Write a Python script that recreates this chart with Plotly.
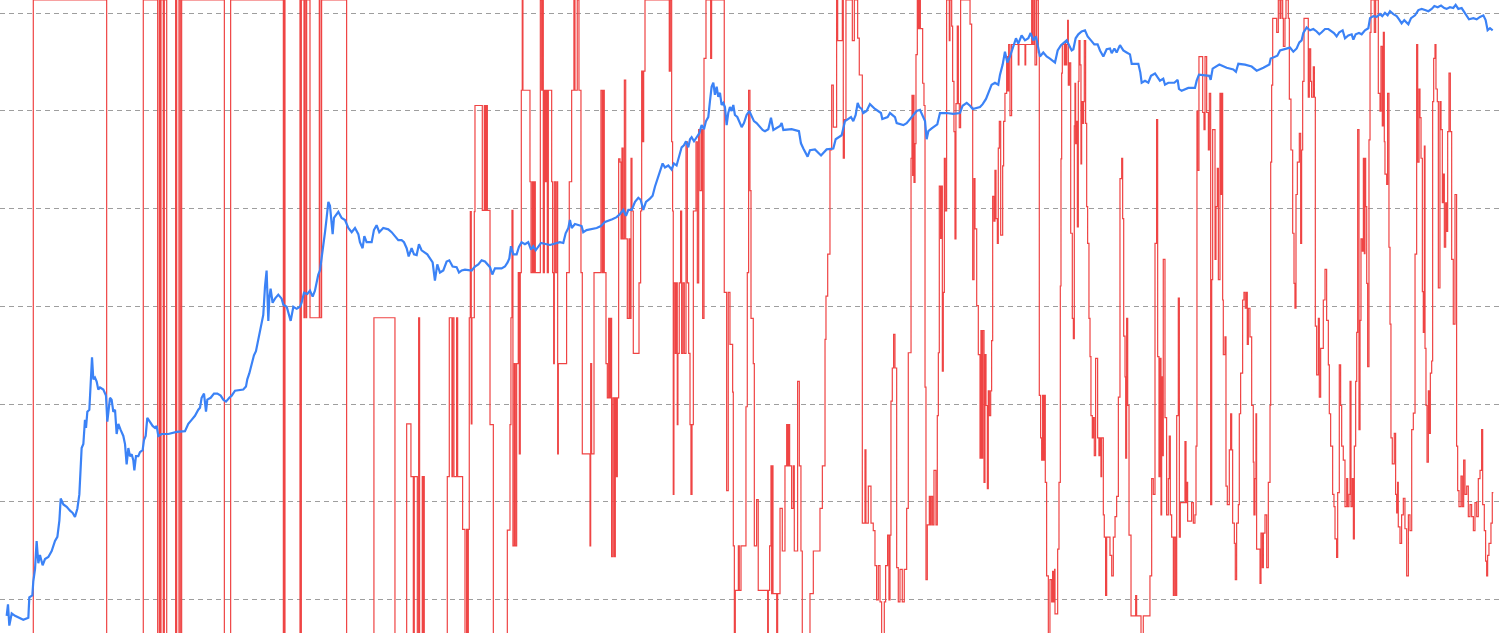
import plotly.graph_objects as go

# ---------------- Blue series: price (log scale), x = decimal year ----------------
blue_2010_2013 = [
    (2010.536, 0.068), (2010.550, 0.089), (2010.564, 0.054), (2010.589, 0.072), (2010.624, 0.068),
    (2010.676, 0.065), (2010.711, 0.062), (2010.764, 0.065), (2010.774, 0.105), (2010.806, 0.110),
    (2010.816, 0.153), (2010.834, 0.204), (2010.851, 0.397), (2010.869, 0.235), (2010.886, 0.285),
    (2010.914, 0.224), (2010.939, 0.259), (2010.974, 0.272), (2011.009, 0.313), (2011.044, 0.397),
    (2011.069, 0.437), (2011.090, 0.640), (2011.104, 1.08), (2011.132, 0.94), (2011.167, 0.89),
    (2011.202, 0.81), (2011.230, 0.77), (2011.254, 0.70), (2011.279, 0.85), (2011.300, 1.19),
    (2011.314, 2.20), (2011.324, 3.55), (2011.342, 3.90), (2011.359, 6.90), (2011.370, 5.70),
    (2011.384, 8.35), (2011.405, 8.75), (2011.419, 19.7), (2011.433, 30.1), (2011.447, 17.9),
    (2011.464, 18.7), (2011.482, 17.0), (2011.499, 14.1), (2011.517, 14.8), (2011.552, 14.1),
    (2011.580, 12.2), (2011.594, 6.6), (2011.622, 11.6), (2011.639, 11.1), (2011.657, 8.35),
    (2011.675, 8.75), (2011.692, 4.94), (2011.710, 6.28), (2011.734, 5.44), (2011.762, 4.72),
    (2011.780, 3.90), (2011.797, 2.42), (2011.815, 3.55), (2011.832, 2.93), (2011.850, 3.07),
    (2011.867, 2.67), (2011.878, 2.10), (2011.895, 2.93), (2011.920, 2.93), (2011.937, 3.22),
    (2011.965, 3.38), (2011.979, 4.29), (2011.997, 4.72), (2012.014, 7.24), (2012.042, 6.58),
    (2012.070, 5.98), (2012.095, 5.70), (2012.112, 5.98), (2012.130, 4.72), (2012.165, 4.94),
    (2012.235, 4.94), (2012.323, 5.19), (2012.410, 5.28), (2012.445, 6.28), (2012.480, 6.90),
    (2012.515, 7.59), (2012.550, 8.75), (2012.568, 9.18), (2012.585, 11.6), (2012.610, 12.8),
    (2012.631, 8.35), (2012.645, 11.1), (2012.680, 11.6), (2012.715, 12.8), (2012.750, 12.8),
    (2012.785, 12.2), (2012.813, 11.1), (2012.841, 10.6), (2012.876, 11.6), (2012.901, 12.2),
    (2012.936, 13.7), (2013.023, 14.1), (2013.051, 15.1), (2013.065, 17.9), (2013.086, 20.6),
    (2013.111, 26.1), (2013.135, 31.6), (2013.156, 34.8), (2013.181, 46.2), (2013.198, 53.3),
    (2013.216, 67.7), (2013.233, 81.9), (2013.251, 159), (2013.268, 233), (2013.286, 71),
    (2013.296, 120), (2013.310, 152), (2013.331, 109), (2013.356, 120), (2013.391, 132),
    (2013.426, 120), (2013.444, 104), (2013.479, 99), (2013.507, 81.9), (2013.521, 71),
    (2013.549, 99), (2013.584, 94.4), (2013.619, 99), (2013.636, 109), (2013.661, 138),
    (2013.696, 134), (2013.724, 145), (2013.752, 126), (2013.776, 145), (2013.794, 175),
    (2013.811, 212), (2013.829, 233), (2013.846, 310), (2013.864, 375), (2013.882, 575),
    (2013.899, 804), (2013.917, 1175), (2013.934, 1069),
]
blue_2014_2016 = [
    (2013.962, 549), (2013.976, 804), (2014.004, 883), (2014.022, 927), (2014.057, 804),
    (2014.092, 766), (2014.127, 634), (2014.162, 575), (2014.197, 634), (2014.232, 549),
    (2014.249, 454), (2014.277, 394), (2014.295, 524), (2014.319, 454), (2014.372, 454),
    (2014.396, 604), (2014.424, 678), (2014.452, 575), (2014.494, 634), (2014.547, 615),
    (2014.582, 575), (2014.617, 524), (2014.652, 476), (2014.687, 476), (2014.712, 454),
    (2014.740, 394), (2014.761, 325), (2014.792, 394), (2014.817, 341), (2014.845, 335),
    (2014.869, 433), (2014.897, 375), (2014.932, 358), (2014.957, 341), (2014.985, 310),
    (2015.013, 282), (2015.037, 184), (2015.062, 269), (2015.090, 222), (2015.125, 233),
    (2015.160, 288), (2015.188, 296), (2015.223, 256), (2015.265, 252), (2015.290, 222),
    (2015.318, 233), (2015.353, 238), (2015.423, 233), (2015.458, 256), (2015.493, 269),
    (2015.528, 296), (2015.563, 288), (2015.616, 252), (2015.640, 212), (2015.668, 245),
    (2015.738, 245), (2015.773, 256), (2015.801, 282), (2015.819, 310), (2015.836, 413),
    (2015.861, 341), (2015.896, 341), (2015.920, 405), (2015.948, 454), (2015.983, 433),
    (2016.018, 454), (2016.047, 382), (2016.071, 413), (2016.096, 375), (2016.124, 413),
    (2016.152, 446), (2016.246, 425), (2016.351, 454), (2016.386, 446), (2016.411, 560),
    (2016.439, 634), (2016.456, 766), (2016.474, 634), (2016.509, 697), (2016.579, 664),
    (2016.596, 575), (2016.631, 604), (2016.737, 634), (2016.782, 664), (2016.824, 731),
    (2016.901, 781), (2016.947, 819), (2016.982, 883),
]
blue_2017_2019 = [
    (2017.017, 972), (2017.045, 843), (2017.070, 972), (2017.105, 972), (2017.140, 1175),
    (2017.175, 1294), (2017.199, 1233), (2017.227, 972), (2017.255, 1175), (2017.297, 1268),
    (2017.325, 1355), (2017.350, 1687), (2017.374, 1984), (2017.402, 2399), (2017.430, 2904),
    (2017.455, 2640), (2017.490, 2767), (2017.525, 2518), (2017.549, 2904), (2017.577, 2767),
    (2017.605, 3508), (2017.630, 4246), (2017.654, 4456), (2017.676, 4898), (2017.700, 4246),
    (2017.718, 5140), (2017.735, 5385), (2017.760, 4898), (2017.788, 5385), (2017.816, 5929),
    (2017.840, 7166), (2017.865, 6513), (2017.886, 7880), (2017.910, 8670), (2017.928, 12680),
    (2017.945, 17700), (2017.963, 19460), (2017.980, 14620), (2017.998, 17700), (2018.015, 13960),
    (2018.033, 15350), (2018.050, 11530), (2018.068, 12100), (2018.085, 10990), (2018.103, 7166),
    (2018.120, 9530), (2018.138, 10990), (2018.155, 10000), (2018.173, 11530), (2018.190, 9100),
    (2018.215, 8670), (2018.236, 7880), (2018.261, 6840), (2018.285, 7516), (2018.313, 9100),
    (2018.341, 10000), (2018.366, 8670), (2018.390, 7880), (2018.418, 7516), (2018.446, 7031),
    (2018.481, 6393), (2018.506, 6209), (2018.541, 6513), (2018.569, 8511), (2018.594, 6393),
    (2018.664, 7031), (2018.681, 7516), (2018.699, 6393), (2018.786, 6513), (2018.863, 6209),
    (2018.884, 4667), (2018.909, 4126), (2018.954, 3412), (2018.979, 3972), (2019.031, 4046),
    (2019.095, 3508), (2019.154, 4046), (2019.224, 4126), (2019.249, 5140), (2019.312, 5649),
    (2019.347, 7880), (2019.410, 8670), (2019.434, 7880), (2019.459, 9100), (2019.480, 12100),
    (2019.497, 10990), (2019.522, 10490), (2019.539, 9530), (2019.574, 10000), (2019.609, 11750),
    (2019.662, 10490), (2019.725, 9530), (2019.739, 8260), (2019.795, 8670), (2019.820, 9530),
    (2019.872, 8670), (2019.890, 7516), (2019.960, 7166), (2019.995, 7516),
]
blue_2020_2022 = [
    (2020.030, 8260), (2020.065, 9100), (2020.100, 10000), (2020.135, 10290), (2020.163, 9100),
    (2020.188, 7880), (2020.205, 5140), (2020.223, 6209), (2020.258, 6637), (2020.293, 7031),
    (2020.317, 7311), (2020.345, 9530), (2020.415, 9530), (2020.485, 9354), (2020.555, 9530),
    (2020.583, 11320), (2020.626, 12100), (2020.661, 11320), (2020.689, 10490), (2020.766, 10990),
    (2020.794, 11750), (2020.829, 13300), (2020.853, 15070), (2020.888, 18580), (2020.923, 19460),
    (2020.958, 18580), (2020.976, 23550), (2021.004, 29850), (2021.028, 40460), (2021.053, 31330),
    (2021.081, 36140), (2021.116, 45830), (2021.144, 55460), (2021.168, 48980), (2021.203, 59290),
    (2021.239, 52860), (2021.274, 55460), (2021.298, 62800), (2021.326, 52860), (2021.354, 58080),
    (2021.379, 43650), (2021.396, 36140), (2021.431, 39720), (2021.466, 36140), (2021.501, 34430),
    (2021.554, 31330), (2021.582, 41690), (2021.617, 47210), (2021.677, 52860), (2021.701, 48080),
    (2021.729, 41690), (2021.747, 42850), (2021.771, 55460), (2021.799, 60950), (2021.834, 65160),
    (2021.869, 66990), (2021.897, 58080), (2021.932, 52860), (2021.967, 48080), (2022.002, 48080),
    (2022.027, 41690), (2022.062, 36140), (2022.097, 42850), (2022.132, 43650), (2022.150, 38990),
    (2022.178, 43650), (2022.202, 39720), (2022.237, 47210), (2022.272, 41690), (2022.307, 39720),
    (2022.342, 37930), (2022.360, 30410), (2022.430, 30410), (2022.451, 24710), (2022.465, 19460),
    (2022.500, 20420), (2022.535, 19460), (2022.563, 22910), (2022.605, 24230), (2022.633, 22030),
    (2022.657, 20420), (2022.692, 21430), (2022.710, 18580), (2022.745, 19460), (2022.808, 19460),
    (2022.843, 20800), (2022.857, 16870), (2022.885, 16100), (2022.955, 17220),
]
blue_2023_2026 = [
    (2023.025, 17220), (2023.043, 20420), (2023.067, 23550), (2023.176, 22910), (2023.190, 20800),
    (2023.211, 27160), (2023.281, 29850), (2023.358, 27670), (2023.428, 26660), (2023.456, 25180),
    (2023.481, 30410), (2023.551, 29850), (2023.621, 28510), (2023.674, 25880), (2023.744, 27670),
    (2023.807, 29850), (2023.821, 34430), (2023.891, 36810), (2023.919, 41690), (2023.989, 43650),
    (2024.024, 44570), (2024.059, 40460), (2024.094, 43650), (2024.122, 50350), (2024.146, 52860),
    (2024.164, 62800), (2024.199, 71620), (2024.234, 66990), (2024.269, 69020), (2024.304, 65160),
    (2024.332, 60950), (2024.357, 63970), (2024.392, 69020), (2024.427, 69020), (2024.462, 65160),
    (2024.486, 62800), (2024.514, 58080), (2024.542, 63970), (2024.577, 66990), (2024.602, 55460),
    (2024.637, 59290), (2024.672, 60950), (2024.690, 53830), (2024.714, 60950), (2024.749, 62800),
    (2024.777, 60950), (2024.812, 66990), (2024.847, 70310), (2024.865, 89130), (2024.900, 93540),
    (2024.935, 91830), (2024.970, 98170), (2024.994, 93540), (2025.022, 100900), (2025.050, 95280),
    (2025.075, 104900), (2025.110, 98170), (2025.145, 93540), (2025.170, 86700), (2025.197, 78890),
    (2025.225, 85110), (2025.268, 77270), (2025.296, 89130), (2025.338, 95280), (2025.373, 107900),
    (2025.408, 110900), (2025.443, 107900), (2025.478, 104900), (2025.513, 110900), (2025.541, 118600),
    (2025.576, 115300), (2025.611, 119900), (2025.646, 113200), (2025.670, 110900), (2025.705, 115300),
    (2025.740, 113200), (2025.765, 122100), (2025.793, 110900), (2025.828, 113200), (2025.856, 102800),
    (2025.881, 93540), (2025.905, 86700), (2025.951, 89130), (2025.986, 86700), (2026.021, 91830),
    (2026.056, 95280), (2026.080, 85110), (2026.101, 66990), (2026.126, 70310), (2026.154, 66990),
]

# ---------------- Red series: oscillator 0..100 (step line) ----------------
red_2010_2014 = [
    (2010.466, 0), (2010.816, 100), (2011.587, 0), (2011.972, 100), (2012.123, 0), (2012.140, 100),
    (2012.147, 0), (2012.158, 100), (2012.182, 0), (2012.193, 100), (2012.218, 0), (2012.312, 100),
    (2012.323, 0), (2012.347, 100), (2012.361, 0), (2012.375, 100), (2012.824, 0), (2012.890, 100),
    (2013.444, 0), (2013.454, 100), (2013.461, 0), (2013.619, 100), (2013.626, 0), (2013.633, 100),
    (2013.661, 50), (2013.668, 100), (2013.682, 50), (2013.689, 100), (2013.724, 50), (2013.822, 100),
    (2013.829, 50), (2013.846, 100), (2014.109, 0), (2014.396, 50), (2014.617, 0), (2014.740, 33.3),
    (2014.785, 25), (2014.810, 0), (2014.820, 25), (2014.852, 0), (2014.866, 50), (2014.876, 0),
    (2014.904, 25), (2014.911, 0), (2014.918, 25), (2014.925, 0),
]
red_2015_2016 = [
    (2015.167, 25), (2015.188, 50), (2015.216, 25), (2015.223, 50), (2015.237, 25), (2015.265, 50),
    (2015.276, 25), (2015.328, 16.7), (2015.353, 0), (2015.370, 16.7), (2015.381, 0), (2015.388, 16.7),
    (2015.398, 50), (2015.409, 66.7), (2015.419, 33.3), (2015.426, 50), (2015.451, 66.7),
    (2015.458, 83.4), (2015.535, 66.9), (2015.556, 83.4), (2015.567, 66.9), (2015.577, 83.4),
    (2015.588, 66.9), (2015.616, 33.2), (2015.651, 0), (2015.798, 16.6), (2015.826, 33.2),
    (2015.836, 50), (2015.847, 66.9), (2015.857, 14.1), (2015.871, 42.8), (2015.882, 14.1),
    (2015.896, 42.8), (2015.913, 57.1), (2015.924, 28.6), (2015.934, 57.1), (2015.945, 85.8),
    (2015.955, 100), (2015.962, 85.8), (2016.036, 71.4), (2016.047, 57.1), (2016.061, 71.4),
    (2016.071, 57.1), (2016.082, 71.4), (2016.092, 57.1), (2016.145, 100), (2016.159, 85.8),
    (2016.169, 100), (2016.176, 57.1), (2016.187, 85.8), (2016.197, 71.4), (2016.208, 85.8),
    (2016.218, 57.1), (2016.229, 85.8), (2016.264, 71.4), (2016.274, 57.1), (2016.285, 42.8),
    (2016.292, 71.4), (2016.306, 57.1), (2016.320, 71.4), (2016.327, 28.6), (2016.334, 42.8),
    (2016.421, 57.1), (2016.449, 71.4), (2016.474, 85.8), (2016.498, 100), (2016.509, 85.8),
    (2016.533, 100), (2016.551, 85.8), (2016.572, 57.1), (2016.586, 28.6), (2016.667, 14.1),
    (2016.674, 42.8), (2016.684, 28.6), (2016.709, 57.1), (2016.782, 85.8), (2016.796, 57.1),
    (2016.807, 85.8), (2016.817, 57.1), (2016.835, 42.8), (2016.849, 37.4), (2016.863, 49.9),
    (2016.873, 37.4), (2016.884, 49.9), (2016.894, 12.4), (2016.908, 37.4), (2016.922, 12.4),
    (2016.933, 37.4), (2016.943, 25), (2016.954, 37.4), (2016.968, 75),
]
red_2017_2018 = [
    (2016.982, 74.5), (2016.993, 62.4), (2017.003, 76.7), (2017.014, 62.4), (2017.028, 87.4),
    (2017.042, 62.4), (2017.059, 49.9), (2017.077, 62.4), (2017.087, 49.9), (2017.098, 75.1),
    (2017.108, 66.8), (2017.122, 44.4), (2017.182, 55.5), (2017.199, 66.8), (2017.210, 88.8),
    (2017.220, 77.7), (2017.231, 88.8), (2017.245, 100), (2017.500, 88.8), (2017.511, 100),
    (2017.525, 77.7), (2017.535, 66.8), (2017.542, 22.2), (2017.549, 55.5), (2017.563, 44.4),
    (2017.574, 55.5), (2017.584, 33.2), (2017.591, 44.4), (2017.605, 55.5), (2017.619, 66.8),
    (2017.630, 44.4), (2017.644, 55.5), (2017.658, 44.4), (2017.676, 77.7), (2017.690, 55.5),
    (2017.704, 44.4), (2017.718, 33.2), (2017.728, 22.2), (2017.739, 33.2), (2017.753, 66.8),
    (2017.781, 77.7), (2017.795, 55.5), (2017.809, 79.6), (2017.823, 70), (2017.840, 79.6),
    (2017.851, 49.9), (2017.865, 90.8), (2017.886, 100), (2017.935, 90.8), (2017.945, 100),
    (2018.078, 54), (2018.103, 22.8), (2018.120, 54), (2018.138, 45.8), (2018.166, 38.3),
    (2018.173, 14.1), (2018.184, 0), (2018.194, 7.1), (2018.226, 14.1), (2018.236, 7.1),
    (2018.254, 14.1), (2018.306, 36), (2018.320, 57.1), (2018.334, 85.8), (2018.348, 70),
    (2018.359, 49.9), (2018.383, 42.8), (2018.394, 14.1), (2018.418, 21.4), (2018.435, 7.1),
    (2018.534, 0), (2018.541, 7.1), (2018.555, 14.1), (2018.569, 26.7), (2018.576, 6.6),
    (2018.583, 26.7), (2018.590, 6.6), (2018.629, 0), (2018.639, 6.6), (2018.664, 20),
    (2018.688, 13.3), (2018.716, 26.7), (2018.734, 33.2), (2018.744, 26.7), (2018.755, 33.2),
    (2018.765, 26.7), (2018.786, 20), (2018.804, 26.7), (2018.814, 13.3), (2018.849, 40),
    (2018.867, 26.7), (2018.884, 13.3), (2018.898, 0), (2018.979, 6.6),
]
red_2019_2020 = [
    (2019.014, 13.3), (2019.084, 20), (2019.109, 26.7), (2019.137, 46.6), (2019.147, 53.4),
    (2019.165, 60), (2019.189, 76.4), (2019.207, 86.6), (2019.224, 80), (2019.259, 100),
    (2019.270, 93.6), (2019.319, 100), (2019.329, 75.1), (2019.340, 81.2), (2019.357, 100),
    (2019.424, 93.6), (2019.445, 100), (2019.480, 94), (2019.497, 88.2), (2019.529, 17.7),
    (2019.557, 29.2), (2019.567, 17.7), (2019.592, 23.5), (2019.620, 17.7), (2019.644, 16.5),
    (2019.662, 11), (2019.679, 5.6), (2019.697, 11), (2019.715, 5.3), (2019.732, 0),
    (2019.760, 5.3), (2019.774, 11), (2019.795, 15.8), (2019.809, 5.6), (2019.820, 15.8),
    (2019.830, 36.9), (2019.844, 42.1), (2019.858, 47.4), (2019.872, 42.1), (2019.890, 10.7),
    (2019.907, 5.3), (2019.925, 10.4), (2019.949, 5.3), (2019.970, 10.4), (2019.995, 20),
    (2020.012, 44.5), (2020.041, 75.1), (2020.051, 85), (2020.058, 72.4), (2020.065, 85),
    (2020.072, 71.3), (2020.083, 77.4), (2020.093, 91.4), (2020.107, 100), (2020.118, 95.5),
    (2020.128, 100), (2020.139, 95.5), (2020.163, 86.9), (2020.177, 83.4), (2020.188, 39.1),
    (2020.198, 8.8), (2020.212, 17.4), (2020.233, 21.9), (2020.244, 17.4), (2020.254, 21.9),
    (2020.268, 17.4), (2020.282, 26), (2020.303, 17.4), (2020.317, 34.6), (2020.328, 44.5),
    (2020.338, 70.7), (2020.352, 62.5), (2020.363, 70.7), (2020.370, 41.6), (2020.380, 54),
    (2020.391, 75.1), (2020.401, 66.8), (2020.415, 100), (2020.443, 93.6), (2020.450, 100),
    (2020.468, 95.9), (2020.478, 87.2), (2020.492, 79.3), (2020.503, 62.4), (2020.513, 83.7),
    (2020.527, 95.9), (2020.538, 83.7), (2020.548, 79.9), (2020.562, 100), (2020.661, 96.2),
    (2020.678, 83.1), (2020.689, 56), (2020.703, 71.9), (2020.713, 64), (2020.731, 51.9),
    (2020.748, 44.2), (2020.766, 27.9), (2020.776, 48), (2020.787, 27.9), (2020.794, 48),
    (2020.808, 24.1), (2020.818, 44.2), (2020.829, 36.2), (2020.843, 23.1), (2020.853, 38.5),
    (2020.864, 34.6), (2020.878, 38.5), (2020.888, 46.4), (2020.899, 69.1), (2020.913, 65.2),
    (2020.923, 73.2), (2020.934, 65.6), (2020.948, 61.7), (2020.958, 76.7), (2020.969, 80.9),
    (2020.983, 63),
]
red_2021_2022 = [
    (2021.004, 73.9), (2021.014, 80.9), (2021.028, 85.3), (2021.046, 91.1), (2021.056, 85.7),
    (2021.067, 93), (2021.081, 81.8), (2021.098, 93), (2021.168, 89.8), (2021.175, 93),
    (2021.239, 89.8), (2021.246, 93), (2021.309, 100), (2021.319, 93), (2021.333, 100),
    (2021.344, 89.8), (2021.361, 100), (2021.379, 91.7), (2021.389, 37.8), (2021.403, 31.1),
    (2021.414, 27.6), (2021.424, 37.8), (2021.435, 27.6), (2021.442, 37.8), (2021.452, 24.1),
    (2021.466, 9.4), (2021.484, 0), (2021.501, 8.8), (2021.519, 5.3), (2021.529, 10.1),
    (2021.540, 5.3), (2021.550, 10.4), (2021.554, 3.4), (2021.582, 13.6), (2021.596, 24.1),
    (2021.610, 55), (2021.617, 75), (2021.624, 88.5), (2021.631, 93), (2021.652, 89.8),
    (2021.659, 93.3), (2021.666, 89.8), (2021.677, 93), (2021.687, 96.8), (2021.694, 86.6),
    (2021.705, 90.1), (2021.719, 63.3), (2021.736, 49.9), (2021.747, 46.7), (2021.757, 80.2),
    (2021.764, 86.9), (2021.771, 77.4), (2021.782, 80.9), (2021.789, 64.3), (2021.799, 87.2),
    (2021.806, 93.6), (2021.817, 89.8), (2021.827, 74.2), (2021.834, 84), (2021.845, 80.6),
    (2021.855, 84), (2021.862, 93.6), (2021.876, 80.6), (2021.887, 67.5), (2021.897, 61.7),
    (2021.911, 49.9), (2021.922, 43.9), (2021.932, 34.6), (2021.946, 31.1), (2021.957, 34.3),
    (2021.967, 28.3), (2021.981, 43.6), (2022.002, 31.1), (2022.016, 28.3), (2022.027, 31.1),
    (2022.037, 25), (2022.044, 31.1), (2022.062, 19), (2022.072, 15.5), (2022.086, 6.3),
    (2022.097, 15.5), (2022.132, 12.6), (2022.150, 9.4), (2022.167, 15.5), (2022.185, 18.7),
    (2022.202, 21.9), (2022.220, 37.5), (2022.237, 71.9), (2022.255, 75.1), (2022.265, 65.6),
    (2022.276, 47.1), (2022.290, 40.7), (2022.297, 27.9), (2022.307, 49.9), (2022.318, 36.2),
    (2022.332, 15.8), (2022.353, 3.1), (2022.402, 6.3), (2022.412, 3.1), (2022.458, 0),
    (2022.482, 3.1), (2022.552, 9.4), (2022.570, 24.7), (2022.587, 22.2), (2022.605, 61.7),
    (2022.622, 81.2), (2022.633, 43.9), (2022.647, 25), (2022.657, 43.6), (2022.668, 19),
    (2022.675, 40.7), (2022.682, 28.3), (2022.692, 59.2), (2022.710, 34.3), (2022.727, 19),
    (2022.745, 24.7), (2022.755, 31.4), (2022.766, 19), (2022.780, 15.5), (2022.798, 6.3),
    (2022.808, 15.5), (2022.822, 6.3), (2022.833, 34.6), (2022.850, 53.1), (2022.861, 15.5),
    (2022.871, 20.9), (2022.920, 30.5), (2022.931, 20.9), (2022.938, 24.1), (2022.948, 18),
    (2022.990, 20.9),
]
red_2023_2024 = [
    (2023.008, 17.7), (2023.025, 19), (2023.036, 29.8), (2023.046, 82.5), (2023.053, 73.2),
    (2023.067, 91.1), (2023.106, 82.3), (2023.120, 79.6), (2023.131, 91.1), (2023.148, 82.3),
    (2023.166, 76.4), (2023.176, 85.3), (2023.190, 20.6), (2023.201, 56), (2023.211, 79.6),
    (2023.236, 59.2), (2023.246, 67.5), (2023.260, 73.5), (2023.271, 56), (2023.288, 85.3),
    (2023.299, 69.4), (2023.306, 85.3), (2023.316, 52.8), (2023.323, 44.2), (2023.341, 47),
    (2023.351, 23.5), (2023.365, 20.6), (2023.386, 29.2), (2023.400, 34.9), (2023.411, 29.2),
    (2023.421, 17.7), (2023.439, 14.5), (2023.449, 8.8), (2023.463, 17.7), (2023.481, 20.6),
    (2023.491, 34.9), (2023.505, 41.3), (2023.526, 52.8), (2023.540, 54), (2023.554, 51.5),
    (2023.568, 54), (2023.575, 45.8), (2023.586, 51.5), (2023.603, 47), (2023.621, 36.2),
    (2023.638, 27.3), (2023.645, 19), (2023.656, 24.7), (2023.666, 34.9), (2023.673, 13.6),
    (2023.709, 8.2), (2023.719, 16.1), (2023.733, 10.7), (2023.744, 16.1), (2023.761, 19),
    (2023.779, 10.7), (2023.796, 24.1), (2023.814, 36.2), (2023.821, 74.5), (2023.831, 86.6),
    (2023.842, 97.1), (2023.884, 94.9), (2023.901, 100), (2023.919, 97.1), (2023.929, 100),
    (2023.947, 97.1), (2023.954, 92.7), (2023.971, 97.1), (2023.982, 100), (2024.006, 97.1),
    (2024.017, 84.4), (2024.034, 76.4), (2024.052, 63.3), (2024.066, 55.4), (2024.076, 51.5),
    (2024.087, 69.4), (2024.101, 74.5), (2024.122, 79), (2024.136, 61.7), (2024.146, 76.4),
    (2024.157, 87.2), (2024.171, 97.1), (2024.216, 84.7), (2024.227, 92.3), (2024.241, 87.2),
    (2024.251, 84.7), (2024.269, 89.5), (2024.280, 84.7), (2024.290, 48.7), (2024.304, 41),
    (2024.322, 49.9), (2024.332, 37.5), (2024.346, 45.2), (2024.374, 52.8), (2024.392, 57.6),
    (2024.409, 49.6), (2024.427, 42.6), (2024.437, 34.9), (2024.451, 29.8), (2024.472, 22.2),
    (2024.486, 20.3), (2024.497, 15.2), (2024.514, 12.3), (2024.525, 22.5), (2024.542, 42.6),
    (2024.556, 36.2), (2024.567, 29.8), (2024.584, 27.6),
]
red_2024_2026 = [
    (2024.602, 20.3), (2024.620, 24.7), (2024.630, 20.3), (2024.644, 22.2), (2024.655, 40),
    (2024.665, 20.3), (2024.679, 24.7), (2024.690, 15.2), (2024.700, 29.8), (2024.714, 40),
    (2024.725, 47.7), (2024.735, 79.6), (2024.749, 32.4), (2024.760, 49.6), (2024.770, 62.4),
    (2024.784, 60.5), (2024.795, 75.1), (2024.805, 60.1), (2024.812, 75.1), (2024.819, 67.5),
    (2024.830, 55.4), (2024.840, 42.3), (2024.854, 78), (2024.865, 94.9), (2024.875, 100),
    (2024.910, 94.9), (2024.924, 100), (2024.952, 85.3), (2024.970, 82.5), (2024.980, 92.7),
    (2024.994, 80.2), (2025.005, 94.9), (2025.015, 77.7), (2025.022, 72.6), (2025.040, 71),
    (2025.050, 85.3), (2025.064, 61.1), (2025.075, 49), (2025.085, 31.1), (2025.099, 27),
    (2025.120, 31.8), (2025.134, 22.2), (2025.145, 19.3), (2025.155, 24.1), (2025.162, 17.1),
    (2025.180, 14.5), (2025.197, 19), (2025.215, 21.6), (2025.232, 16.8), (2025.250, 9.4),
    (2025.268, 19), (2025.285, 16.5), (2025.303, 32.4), (2025.320, 35), (2025.338, 60),
    (2025.355, 93), (2025.366, 74.5), (2025.380, 86), (2025.390, 81.5), (2025.401, 75.1),
    (2025.415, 54.1), (2025.425, 47.7), (2025.436, 77), (2025.443, 45.2), (2025.453, 36.2),
    (2025.464, 27.3), (2025.478, 38.5), (2025.488, 31.8), (2025.499, 41.3), (2025.513, 43.2),
    (2025.523, 84), (2025.534, 90.8), (2025.548, 93), (2025.558, 86), (2025.572, 84),
    (2025.583, 54.7), (2025.600, 84), (2025.611, 79.6), (2025.625, 68.1), (2025.635, 72.6),
    (2025.646, 61.1), (2025.660, 68.1), (2025.670, 63.6), (2025.681, 79.3), (2025.695, 88.5),
    (2025.709, 79.3), (2025.723, 59.2), (2025.740, 49), (2025.758, 69.4), (2025.775, 29.8),
    (2025.786, 22.8), (2025.800, 20.3), (2025.821, 25.1), (2025.835, 20.3), (2025.849, 27.6),
    (2025.863, 22.2), (2025.881, 23.5), (2025.898, 18.7), (2025.916, 20.6), (2025.933, 18.7),
    (2025.951, 16.5), (2025.968, 20.9), (2025.986, 18.7), (2026.003, 24.7), (2026.021, 26),
    (2026.038, 32.4), (2026.049, 20.6), (2026.066, 16.5), (2026.080, 11.7), (2026.091, 9.4),
    (2026.101, 12.6), (2026.115, 14.5), (2026.136, 17.7), (2026.150, 22.5), (2026.161, 22.5),
]

grid_levels = [0.1, 1, 10, 100, 1000, 10000, 100000]

blue_pts = blue_2010_2013 + blue_2014_2016 + blue_2017_2019 + blue_2020_2022 + blue_2023_2026
red_pts = (red_2010_2014 + red_2015_2016 + red_2017_2018 + red_2019_2020
           + red_2021_2022 + red_2023_2024 + red_2024_2026)

fig = go.Figure()
fig.add_trace(go.Scatter(
    x=[p[0] for p in red_pts], y=[p[1] for p in red_pts],
    mode="lines", line=dict(color="#ef4444", width=1.2, shape="hv"),
    yaxis="y", hoverinfo="skip",
))
fig.add_trace(go.Scatter(
    x=[p[0] for p in blue_pts], y=[p[1] for p in blue_pts],
    mode="lines", line=dict(color="#3b82f6", width=2.2),
    yaxis="y2", hoverinfo="skip",
))

fig.update_layout(
    width=1500, height=633, autosize=False,
    margin=dict(l=0, r=0, t=0, b=0, pad=0),
    paper_bgcolor="white", plot_bgcolor="white",
    showlegend=False,
    xaxis=dict(range=[2010.466, 2026.231], showgrid=False, zeroline=False,
               showticklabels=False, ticks="", showline=False),
    yaxis=dict(range=[0.4, 100], showgrid=False, zeroline=False,
               showticklabels=False, ticks="", showline=False),
    yaxis2=dict(type="log", range=[-1.343, 5.136], overlaying="y", side="right",
                tickvals=grid_levels, showticklabels=False, ticks="",
                showgrid=True, gridcolor="#9e9e9e", gridwidth=1, griddash="5px,4px",
                zeroline=False, showline=False),
)

fig.write_html(
    "out.html",
    config={"displayModeBar": False},
    post_script="document.body.style.margin='0';document.body.style.overflow='hidden';",
)
